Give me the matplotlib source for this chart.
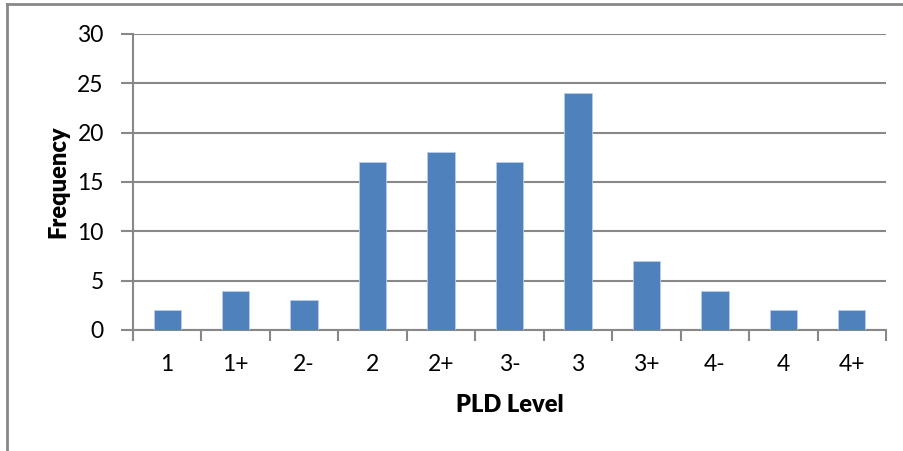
import matplotlib.pyplot as plt
from matplotlib.lines import Line2D
import numpy as np

# PLD level distribution
levels = ['1', '1+', '2-', '2', '2+', '3-', '3', '3+', '4-', '4', '4+']
freq = [2, 4, 3, 17, 18, 17, 24, 7, 4, 2, 2]
yticks = [0, 5, 10, 15, 20, 25, 30]

plt.rcParams['font.family'] = ['Lato', 'DejaVu Sans']
grey = '#888888'

fig = plt.figure(figsize=[9.04, 4.51], dpi=100)
ax = fig.add_axes([133/904, 1-330/451, (886-133)/904, (330-34)/451])

x = np.arange(len(levels))
ax.bar(x, freq, width=0.4, color='#4F81BD', edgecolor='#B9CDE5', linewidth=0.6, zorder=3)

ax.set_xlim(-0.5, len(levels)-0.5)
ax.set_ylim(0, 30)
ax.set_yticks(yticks)
ax.set_yticklabels([str(v) for v in yticks], fontsize=16.5)
ax.set_xticks(x)
ax.set_xticklabels(levels, fontsize=16.5)
ax.tick_params(axis='x', length=0, pad=17)
ax.tick_params(axis='y', length=9, width=1.5, color=grey, pad=12)

# category boundary ticks
ax.set_xticks(np.arange(-0.5, len(levels), 1), minor=True)
ax.tick_params(axis='x', which='minor', length=8, width=1.5, color=grey)

ax.grid(axis='y', color=grey, linewidth=1.5, zorder=0)
for s in ['top', 'right']:
    ax.spines[s].set_visible(False)
for s in ['left', 'bottom']:
    ax.spines[s].set_color(grey)
    ax.spines[s].set_linewidth(1.5)

ax.set_ylabel('Frequency', fontsize=17, weight='heavy', labelpad=6)
ax.set_xlabel('PLD Level', fontsize=17, weight='heavy', labelpad=14)

# chart border (left and top edges visible)
fig.add_artist(Line2D([7/904, 7/904], [0, 1-4/451], color=grey, lw=2, transform=fig.transFigure))
fig.add_artist(Line2D([7/904, 1], [1-4/451, 1-4/451], color=grey, lw=2, transform=fig.transFigure))

plt.savefig('out.png', dpi=100)
